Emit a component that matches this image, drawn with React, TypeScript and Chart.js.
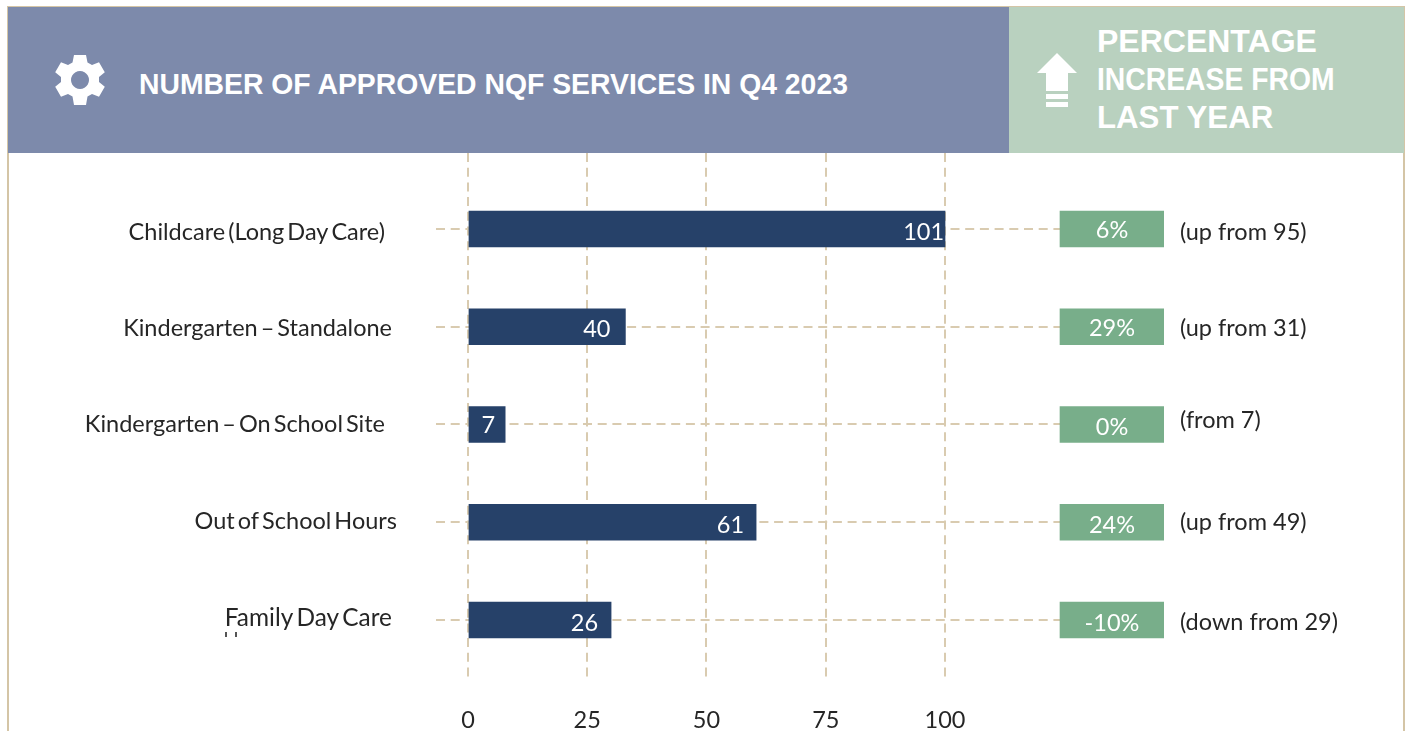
import React, { useEffect, useRef } from "react";
import { Chart, registerables } from "chart.js";

Chart.register(...registerables);

const categories = [
  "Childcare (Long Day Care)",
  "Kindergarten – Standalone",
  "Kindergarten – On School Site",
  "Out of School Hours",
  "Family Day Care",
];
const barLengths = [100, 33, 7.8, 60.4, 30];
const printedValues = ["101", "40", "7", "61", "26"];
const changes = ["6%", "29%", "0%", "24%", "-10%"];
const notes = ["(up from 95)", "(up from 31)", "(from 7)", "(up from 49)", "(down from 29)"];
const xTicks = [0, 25, 50, 75, 100];

const tagStart = 124.1;
const tagEnd = 145.9;

// per-row text nudges in px
const catDx = [-7, 0, -7, 5, 0];
const catDy = [3, 2, 0, -1, -2];
const catSize = [23.5, 23.5, 23.5, 23.5, 24.4];
const valueInset = [1, 15, 10, 12, 13];
const valueDy = [3, 3, 1, 3, 3];
const changeDy = [1, 2, 3, 3, 3];
const noteDy = [3, 2, -4, 0, 2];

const FONT = "Lato, Carlito, sans-serif";
const INK = "#262626";
const GRID = "#D9CBB0";

const textPlugin = {
  id: "rowText",
  afterLayout(chart: any) {
    const items = chart.scales.y.getLabelItems(chart.chartArea);
    items.forEach((it: any, i: number) => {
      it.options.translation = [
        it.options.translation[0] + catDx[i],
        it.options.translation[1] + catDy[i],
      ];
    });
  },
  beforeDraw(chart: any) {
    chart.ctx.wordSpacing = "-3px";
  },
  afterDatasetsDraw(chart: any) {
    const { ctx, scales } = chart;
    ctx.save();
    ctx.wordSpacing = "0px";
    ctx.font = `23.5px ${FONT}`;
    ctx.textBaseline = "middle";
    categories.forEach((_, i) => {
      const y = scales.y.getPixelForValue(i);
      ctx.fillStyle = "#fff";
      ctx.textAlign = "right";
      ctx.fillText(printedValues[i], scales.x.getPixelForValue(barLengths[i]) - valueInset[i], y + valueDy[i]);
      ctx.textAlign = "center";
      ctx.fillText(changes[i], (scales.x.getPixelForValue(tagStart) + scales.x.getPixelForValue(tagEnd)) / 2, y + changeDy[i]);
      ctx.fillStyle = INK;
      ctx.textAlign = "left";
      ctx.fillText(notes[i], scales.x.getPixelForValue(tagEnd) + 16, y + noteDy[i]);
    });
    // clipped remnant of a hidden line below "Family Day Care"
    ctx.fillStyle = "#555";
    ctx.fillRect(225, 632, 2, 5);
    ctx.fillRect(235, 632, 2, 5);
    ctx.restore();
  },
};

export default function App() {
  const ref = useRef<HTMLCanvasElement>(null);
  useEffect(() => {
    const chart = new Chart(ref.current as HTMLCanvasElement, {
      type: "bar",
      data: {
        datasets: [
          {
            label: "Approved services",
            data: barLengths.map((v, i) => ({ x: v, y: i })),
            backgroundColor: "#264169",
            barThickness: 36,
            grouped: false,
          },
          {
            label: "Change",
            data: barLengths.map((_, i) => ({ x: [tagStart, tagEnd], y: i })),
            backgroundColor: "#78AE8A",
            barThickness: 36,
            grouped: false,
          },
        ] as any,
      },
      plugins: [textPlugin],
      options: {
        indexAxis: "y",
        animation: false,
        responsive: false,
        layout: { padding: { top: 153, right: 245, left: 0, bottom: 0 } },
        plugins: { legend: { display: false }, title: { display: false }, tooltip: { enabled: false } },
        scales: {
          x: {
            type: "linear",
            min: -6.7,
            max: tagEnd,
            afterBuildTicks(scale: any) {
              scale.ticks = xTicks.map((value) => ({ value }));
            },
            afterFit(scale: any) {
              scale.height = 51;
              scale.paddingTop = 0;
              scale.paddingBottom = 0;
              scale.paddingLeft = 0;
              scale.paddingRight = 0;
            },
            border: { display: false, dash: [9, 5.7] },
            grid: { color: GRID, lineWidth: 2, drawTicks: false },
            ticks: {
              autoSkip: false,
              maxRotation: 0,
              padding: 26,
              color: INK,
              font: { family: FONT, size: 23.5 },
            },
          } as any,
          y: {
            type: "linear",
            reverse: true,
            offset: false,
            min: -0.7775,
            max: 4.614,
            afterBuildTicks(scale: any) {
              scale.ticks = categories.map((_, value) => ({ value }));
            },
            afterFit(scale: any) {
              scale.width = 436;
              scale.paddingTop = 0;
              scale.paddingBottom = 0;
              scale.paddingLeft = 0;
              scale.paddingRight = 0;
            },
            border: { display: false, dash: [9, 5.7] },
            grid: { offset: false, color: GRID, lineWidth: 2, drawTicks: false },
            ticks: {
              autoSkip: false,
              padding: 44,
              color: INK,
              font: (c: any) => ({ family: FONT, size: catSize[c.index] ?? 23.5 }),
              callback: (v: any) => categories[v],
            },
          } as any,
        },
      } as any,
    });
    return () => chart.destroy();
  }, []);

  const head: React.CSSProperties = {
    position: "absolute",
    color: "#fff",
    fontFamily: "'Liberation Sans', Arial, sans-serif",
    fontWeight: 700,
    whiteSpace: "nowrap",
    transformOrigin: "left center",
  };
  return (
    <div style={{ position: "absolute", left: 0, top: 0, width: 1409, height: 731, overflow: "hidden", background: "#fff" }}>
      <canvas ref={ref} width={1409} height={731} style={{ position: "absolute", left: 0, top: 0, display: "block" }} />
      <div style={{ position: "absolute", left: 7, top: 6, width: 2, height: 725, background: "#D4C5A6" }} />
      <div style={{ position: "absolute", left: 1403, top: 6, width: 2, height: 725, background: "#D4C5A6" }} />
      <div style={{ position: "absolute", left: 7, top: 6, width: 1398, height: 1, background: "#D4C5A6" }} />
      <div style={{ position: "absolute", left: 8, top: 7, width: 1001, height: 146, background: "#7D8AAB" }} />
      <div style={{ position: "absolute", left: 1009, top: 7, width: 395, height: 146, background: "#B9D1BF" }} />
      <svg style={{ position: "absolute", left: 55, top: 55 }} width="50" height="50" viewBox="0 0 50 50">
        <path
          fill="#fff"
          fillRule="evenodd"
          d="M19 0h12l1.5 7.5 4.5 2.5 7-2.8 5.8 10-5.8 4.8v5l5.8 4.8-5.8 10-7-2.8-4.5 2.5L31 50H19l-1.5-8.5-4.5-2.5-7 2.8L.2 31.8 6 27v-5L.2 17.2 6 7.2l7 2.8 4.5-2.5zM25 16a9 9 0 1 0 .01 0z"
        />
      </svg>
      <div style={{ ...head, left: 139, top: 67, fontSize: 30, lineHeight: "34px", transform: "scaleX(0.945)" }}>
        NUMBER OF APPROVED NQF SERVICES IN Q4 2023
      </div>
      <svg style={{ position: "absolute", left: 1037, top: 53 }} width="40" height="54" viewBox="0 0 40 54">
        <path fill="#fff" d="M20 0 40 20H31V38H9V20H0zM9 41H31V46H9zM9 49H31V54H9z" />
      </svg>
      <div style={{ ...head, left: 1097, top: 22, fontSize: 32, lineHeight: "38px" }}>PERCENTAGE</div>
      <div style={{ ...head, left: 1097, top: 60, fontSize: 32, lineHeight: "38px", transform: "scaleX(0.885)" }}>INCREASE FROM</div>
      <div style={{ ...head, left: 1097, top: 98, fontSize: 32, lineHeight: "38px", transform: "scaleX(0.975)" }}>LAST YEAR</div>
    </div>
  );
}
